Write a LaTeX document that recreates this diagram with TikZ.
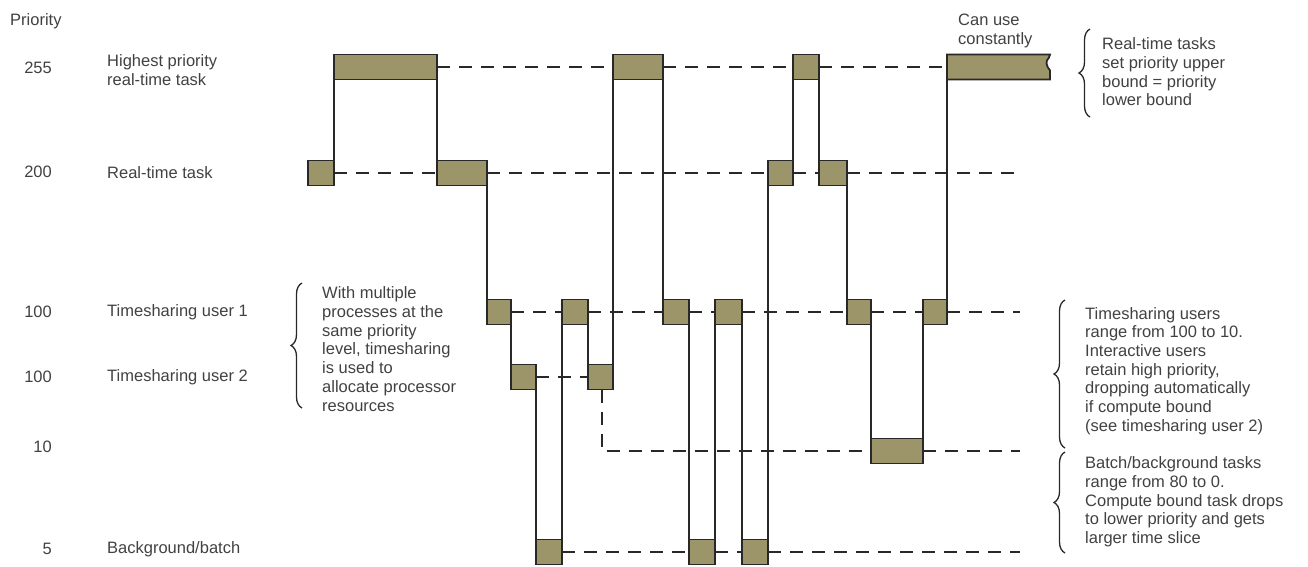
\documentclass[tikz,border=0pt]{standalone}
\usepackage{fontspec}
\setmainfont{Liberation Sans}
\usetikzlibrary{decorations.pathreplacing}
\definecolor{slotfill}{RGB}{156,149,106}
\definecolor{ink}{RGB}{40,40,40}
\definecolor{txt}{RGB}{65,65,65}
\newcommand{\mkslot}[4]{\node[slot, minimum width={#3-#2}] (#1) at ({(#2+#3)/2},#4) {};}
\begin{document}
\begin{tikzpicture}[x=1pt,y=-1pt,
  slot/.style={rectangle, draw=ink, line width=1.8pt, fill=slotfill, inner sep=0pt, outer sep=0pt, minimum height=25pt},
  run/.style={draw=ink, line width=1.5pt},
  wait/.style={draw=ink, line width=1.8pt, dash pattern=on 13pt off 9pt},
  lbl/.style={text=txt, font=\fontsize{16.5}{18.7}\selectfont, inner sep=0pt, align=left},
  brc/.style={draw=ink, line width=1.3pt, decorate, decoration={brace, amplitude=11pt}}]
\useasboundingbox (0,0) rectangle (1308,566);

% levels: 255 -> 67, 200 -> 173, U1 -> 312, U2 -> 377, 10 -> 451, 5 -> 552
\mkslot{r1}{308}{334}{173}
\mkslot{h1}{334}{437}{67}
\mkslot{r2}{437}{487}{173}
\mkslot{ua}{487}{511}{312}
\mkslot{va}{511}{536}{377}
\mkslot{b1}{536}{562}{552}
\mkslot{ub}{562}{588}{312}
\mkslot{vb}{588}{613}{377}
\mkslot{h2}{613}{663}{67}
\mkslot{uc}{663}{689}{312}
\mkslot{b2}{689}{715}{552}
\mkslot{ud}{715}{742}{312}
\mkslot{b3}{742}{768}{552}
\mkslot{r3}{768}{793}{173}
\mkslot{h3}{793}{819}{67}
\mkslot{r4}{819}{847}{173}
\mkslot{ue}{847}{871}{312}
\mkslot{t1}{871}{923}{451}
\mkslot{uf}{923}{947}{312}
\node[slot, draw=none, fill=none, minimum width=103] (h4) at (998.5,67) {};
\path[draw=ink, line width=1.8pt, fill=slotfill]
  (h4.north west) -- (h4.north east) -- ++(-1,3)
  .. controls ++(-4,4) and ++(-4,-5) .. ++(1,13) -- (h4.south east) -- (h4.south west) -- cycle;

% end points of waiting lines
\coordinate (e200) at (1022,173);
\coordinate (eu1) at (1020,312);
\coordinate (e10) at (1020,451);
\coordinate (e5) at (1020,552);
\coordinate (d10) at (602,451);

% running path
\draw[run] (r1.north east) -- (h1.south west);
\draw[run] (h1.south east) -- (r2.north west);
\draw[run] (r2.south east) -- (ua.north west);
\draw[run] (ua.south east) -- (va.north west);
\draw[run] (va.south east) -- (b1.north west);
\draw[run] (b1.north east) -- (ub.south west);
\draw[run] (ub.south east) -- (vb.north west);
\draw[run] (vb.north east) -- (h2.south west);
\draw[run] (h2.south east) -- (uc.north west);
\draw[run] (uc.south east) -- (b2.north west);
\draw[run] (b2.north east) -- (ud.south west);
\draw[run] (ud.south east) -- (b3.north west);
\draw[run] (b3.north east) -- (r3.south west);
\draw[run] (r3.north east) -- (h3.south west);
\draw[run] (h3.south east) -- (r4.north west);
\draw[run] (r4.south east) -- (ue.north west);
\draw[run] (ue.south east) -- (t1.north west);
\draw[run] (t1.north east) -- (uf.south west);
\draw[run] (uf.north east) -- (h4.south west);

% waiting lines
\draw[wait] (h1.east) -- (h2.west);
\draw[wait] (h2.east) -- (h3.west);
\draw[wait] (h3.east) -- (h4.west);
\draw[wait] (r1.east) -- (r2.west);
\draw[wait] (r2.east) -- (r3.west);
\draw[wait] (r3.east) -- (r4.west);
\draw[wait] (r4.east) -- (e200);
\draw[wait] (ua.east) -- (ub.west);
\draw[wait] (ub.east) -- (uc.west);
\draw[wait] (uc.east) -- (ud.west);
\draw[wait] (ud.east) -- (ue.west);
\draw[wait] (ue.east) -- (uf.west);
\draw[wait] (uf.east) -- (eu1);
\draw[wait] (va.east) -- (vb.west);
\draw[wait] (d10 |- vb.south) -- (d10) -- (t1.west);
\draw[wait] (t1.east) -- (e10);
\draw[wait] (b1.east) -- (b2.west);
\draw[wait] (b2.east) -- (b3.west);
\draw[wait] (b3.east) -- (e5);

% left labels
\node[lbl, anchor=west] (ttl) at (10,21) {Priority};
\node[lbl, anchor=east] (p255) at (52,68) {255};
\node[lbl, anchor=west] (n255) at (107,70) {Highest priority\\real-time task};
\node[lbl, anchor=east] (p200) at (52,172) {200};
\node[lbl, anchor=west] (n200) at (107,173) {Real-time task};
\node[lbl, anchor=east] (p100a) at (52,312) {100};
\node[lbl, anchor=west] (nu1) at (107,312) {Timesharing user 1};
\node[lbl, anchor=east] (p100b) at (52,377) {100};
\node[lbl, anchor=west] (nu2) at (107,377) {Timesharing user 2};
\node[lbl, anchor=east] (p10) at (52,447) {10};
\node[lbl, anchor=east] (p5) at (52,549) {5};
\node[lbl, anchor=west] (n5) at (107,549) {Background/batch};

% annotations
\node[lbl, anchor=west] (a1) at (958,31) {Can use\\constantly};
\node[lbl, anchor=west] (a2) at (1102,72) {Real-time tasks\\set priority upper\\bound = priority\\lower bound};
\node[lbl, anchor=west] (a3) at (322,349) {With multiple\\processes at the\\same priority\\level, timesharing\\is used to\\allocate processor\\resources};
\node[lbl, anchor=west] (a4) at (1085,371) {Timesharing users\\range from 100 to 10.\\Interactive users\\retain high priority,\\dropping automatically\\if compute bound\\(see timesharing user 2)};
\node[lbl, anchor=west] (a5) at (1085,502) {Batch/background tasks\\range from 80 to 0.\\Compute bound task drops\\to lower priority and gets\\larger time slice};

% braces
\draw[brc] (1090,117) -- (1090,29);
\draw[brc] (302,408) -- (302,283);
\draw[brc] (1065,448) -- (1065,300);
\draw[brc] (1065,553) -- (1065,452);
\end{tikzpicture}
\end{document}
